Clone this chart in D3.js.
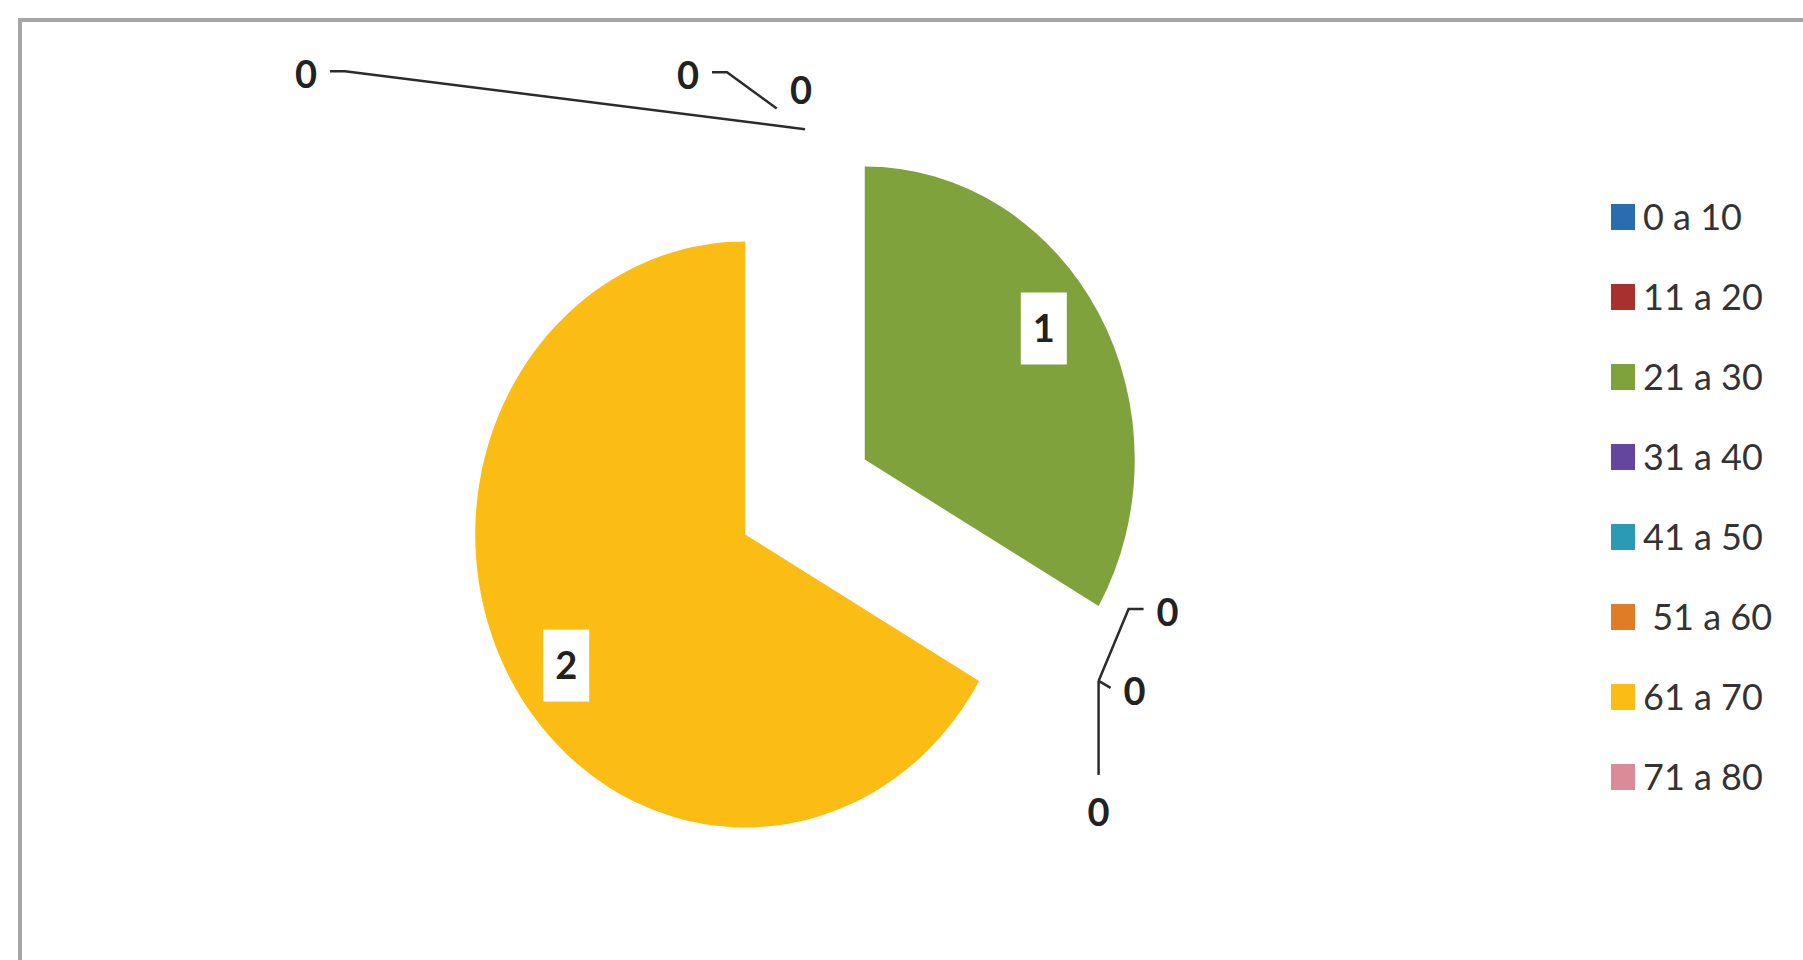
<!DOCTYPE html>
<html><head><meta charset="utf-8">
<script src="https://cdn.jsdelivr.net/npm/d3@7"></script>
<style>
body{margin:0;background:#fff;overflow:hidden;}
text{font-family:Lato,"Open Sans",sans-serif;white-space:pre;}
</style>
</head><body><svg id="c" width="1803" height="960"></svg>
<script>
// ---- data ----
const categories = ["0 a 10","11 a 20","21 a 30","31 a 40","41 a 50"," 51 a 60","61 a 70","71 a 80"];
const values = [0,0,1,0,0,0,2,0];
const colors = ["#2A6CB0","#A8302F","#80A23D","#6446A0","#2A9BB3","#E07B27","#FBBC14","#DB8B97"];

// ---- layout ----
const W=1803,H=960;
const center=[805,497], radius=270, yScale=1.085, explode=69;
const labelRadius=216, labelShift=-0.07, fontSize=38, legendFontSize=36;
// offsets of the zero data labels from their slice anchor: [dx, dy, leaderTrim or null for none]
const zeroLabelOffsets = {
  "0 a 10":[-117,-54,35],
  "11 a 20":[-4,-39,null],
  "71 a 80":[-499,-55,0],
  "31 a 40":[69,-69,0],
  "41 a 50":[36,10,0],
  " 51 a 60":[0,131,0]
};

const svg=d3.select("#c");
svg.append("rect").attr("width",W).attr("height",H).attr("fill","#fff");
svg.append("rect").attr("x",20).attr("y",20).attr("width",W+40).attr("height",H+40)
  .attr("fill","#fff").attr("stroke","#a6a6a6").attr("stroke-width",4);

const data=categories.map((c,i)=>({cat:c,value:values[i],color:colors[i]}));
const pie=d3.pie().sort(null).value(d=>d.value).startAngle(0).endAngle(2*Math.PI);
const arcs=pie(data);
const arc=d3.arc().innerRadius(0).outerRadius(radius);

function toScreen(ox,oy,r,a){
  return [center[0]+ox+r*Math.sin(a), center[1]+(oy - r*Math.cos(a))*yScale];
}

const g=svg.append("g").attr("transform",`translate(${center[0]},${center[1]}) scale(1,${yScale})`);
arcs.filter(d=>d.value>0).forEach(d=>{
  const mid=(d.startAngle+d.endAngle)/2;
  const ex=explode*Math.sin(mid), ey=-explode*Math.cos(mid);
  g.append("path").attr("d",arc(d)).attr("fill",d.data.color)
    .attr("transform",`translate(${ex},${ey})`);
});

// non-zero labels
arcs.filter(d=>d.value>0).forEach(d=>{
  const mid=(d.startAngle+d.endAngle)/2;
  const ex=explode*Math.sin(mid), ey=-explode*Math.cos(mid);
  const p=toScreen(ex,ey,labelRadius,mid+labelShift);
  svg.append("rect").attr("x",p[0]-23).attr("y",p[1]-36).attr("width",46).attr("height",72).attr("fill","#fff");
  svg.append("text").attr("x",p[0]).attr("y",p[1]+fontSize*0.36).attr("text-anchor","middle")
    .attr("font-size",fontSize).attr("font-weight","bold").attr("fill","#222").text(d.value);
});

// zero labels with leader lines
arcs.filter(d=>d.value===0).forEach(d=>{
  const a=d.startAngle;
  const A=toScreen(0,0,radius+explode,a);
  const off=zeroLabelOffsets[d.data.cat];
  const L=[A[0]+off[0],A[1]+off[1]];
  svg.append("text").attr("x",L[0]).attr("y",L[1]+fontSize*0.36).attr("text-anchor","middle")
    .attr("font-size",fontSize).attr("font-weight","bold").attr("fill","#222").text(d.value);
  if(off[2]===null) return;
  let pts;
  if(Math.abs(off[0])<10 && off[1]>50){
    pts=[A,[L[0],L[1]-37]];
  } else {
    const side=Math.sign(A[0]-L[0]);
    const s=[L[0]+side*24,L[1]-3];
    pts=[s];
    let from=s;
    if(Math.abs(A[0]-s[0])>25){ const e=[s[0]+side*15,s[1]]; pts.push(e); from=e; }
    const dx=A[0]-from[0], dy=A[1]-from[1], len=Math.hypot(dx,dy);
    const t=off[2]||0;
    pts.push([A[0]-dx/len*t, A[1]-dy/len*t]);
  }
  svg.append("path").attr("d",d3.line()(pts)).attr("fill","none")
    .attr("stroke","#2b2b2b").attr("stroke-width",2.5);
});

// legend
const lg=svg.append("g");
categories.forEach((c,i)=>{
  const y=217+i*80;
  lg.append("rect").attr("x",1611).attr("y",y-13).attr("width",24).attr("height",26).attr("fill",colors[i]);
  lg.append("text").attr("x",1643).attr("y",y+legendFontSize*0.36).attr("font-size",legendFontSize)
    .attr("fill","#333").text(c);
});
</script></body></html>
